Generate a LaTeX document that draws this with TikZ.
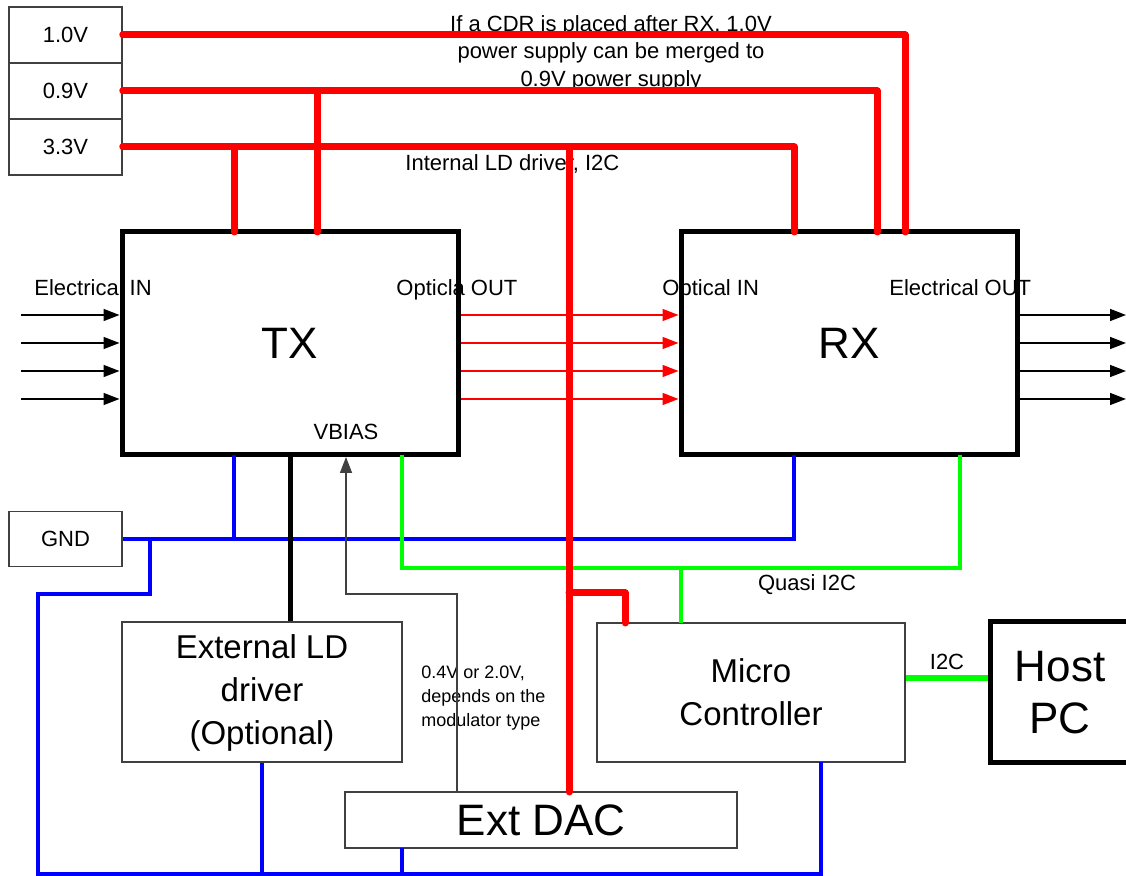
\documentclass[tikz,border=0pt]{standalone}
\usepackage{fontspec}
\setmainfont{Liberation Sans}
\usetikzlibrary{arrows.meta}

\begin{document}
\begin{tikzpicture}[x=0.5pt, y=-0.5pt, >={Triangle[length=8pt, width=6pt]},
	lbl/.style={inner sep=0pt, font=\fontsize{11}{13.75}\selectfont},
	supply/.style={draw=black!75, line width=0.75pt, minimum width=56.5pt, minimum height=28pt, inner sep=0pt, font=\fontsize{11}{13}\selectfont},
	chip/.style={draw, line width=2.5pt, minimum width=168pt, minimum height=111.5pt, inner sep=0pt, align=center, font=\fontsize{22}{24}\selectfont},
	block/.style={draw=black!75, line width=0.75pt, inner sep=0pt, align=center, font=\fontsize{16.5}{21.5}\selectfont},
	pwr/.style={red, line width=3.5pt, line cap=round, line join=round},
	gndw/.style={blue, line width=2pt},
	bus/.style={green, line width=2pt},
	elec/.style={->, line width=0.75pt},
	optic/.style={->, red, line width=0.75pt}]
	\useasboundingbox (0,0) rectangle (1126,876);
	\node[lbl, align=center] (cdrnote) at (611,53) {If a CDR is placed after RX, 1.0V\\power supply can be merged to\\0.9V power supply};
	\node[lbl, anchor=base west] (ldnote) at (405,171) {Internal LD driver, I2C};
	\node[lbl, anchor=base west] (elin) at (34,296) {Electrical IN};
	\node[lbl, anchor=base west] (opout) at (396,296) {Opticla OUT};
	\node[lbl, anchor=base west] (opin) at (662,296) {Optical IN};
	\node[lbl, anchor=base west] (elout) at (889,296) {Electrical OUT};
	\node[lbl, anchor=base] (vbias) at (346,440) {VBIAS};
	\node[lbl, anchor=base] (quasi) at (807,591) {Quasi I2C};
	\node[lbl, anchor=base] (i2c) at (947,670) {I2C};
	\node[lbl, anchor=west, align=left, font=\fontsize{9}{12}\selectfont] (vnote) at (421,698) {0.4V or 2.0V,\\depends on the\\modulator type};
	
	\node[supply] (v10) at (65.5,35) {1.0V};
	\node[supply] (v09) at (65.5,91) {0.9V};
	\node[supply] (v33) at (65.5,147) {3.3V};
	\node[supply, minimum height=27.5pt] (gnd) at (65.5,539) {GND};
	\node[chip] (tx) at (290,343.5) {TX};
	\node[chip] (rx) at (849,343.5) {RX};
	\node[block, minimum width=140pt, minimum height=70pt, text depth=2pt] (extld) at (262,692) {External LD\\driver\\(Optional)};
	\node[block, minimum width=154pt, minimum height=69.5pt] (mcu) at (751,692.5) {Micro\\Controller};
	\node[block, minimum width=196pt, minimum height=28pt, font=\fontsize{22}{24}\selectfont] (dac) at (541,820) {Ext DAC};
	\node[chip, minimum width=70pt, minimum height=70.5pt, font=\fontsize{22}{26}\selectfont] (host) at (1060,692.5) {Host\\PC};
	
	\coordinate (tx33) at (234,232);
	\coordinate (tx09) at (317,232);
	\coordinate (rx33) at (794,232);
	\coordinate (rx09) at (877,232);
	\coordinate (rx10) at (905,232);
	\coordinate (ldpwr) at (569,792);
	\coordinate (mcpwr) at (625,623);
	\coordinate (txgnd) at (234,455);
	\coordinate (rxgnd) at (794,455);
	\coordinate (mcgnd) at (821,762);
	\coordinate (dacgnd) at (402,848);
	\coordinate (gndloop) at (38,874);
	\coordinate (txi2c) at (402,455);
	\coordinate (rxi2c) at (960,455);
	\coordinate (mci2c) at (681,623);
	\coordinate (vbtip) at (346,457);
	
	\draw[gndw] (gnd.east) -| (rxgnd);
	\draw[gndw] (txgnd) -- (txgnd |- gnd.east);
	\draw[gndw] (gnd.east -| 150,0) -- (150,594) -| (gndloop) -| (mcgnd);
	\draw[gndw] (extld.south) -- (extld.south |- gndloop);
	\draw[gndw] (dacgnd) -- (dacgnd |- gndloop);
	
	\draw[bus] (txi2c) -- (402,568) -| (rxi2c);
	\draw[bus] (mci2c |- 0,568) -- (mci2c);
	\draw[bus, line width=3.25pt] (mcu.east |- 0,678) -- (host.west |- 0,678);
	
	\draw[line width=2.5pt] (tx.south) -- (tx.south |- extld.north);
	\draw[->, black!75, line width=0.75pt] (dac.north -| 457,0) |- (346,594) -- (vbtip);
	
	\foreach \y in {315,343,371,399} {
		\draw[elec] (21,\y) -- (tx.west |- 0,\y);
		\draw[optic] (tx.east |- 0,\y) -- (rx.west |- 0,\y);
		\draw[elec] (rx.east |- 0,\y) -- (1126,\y);
	}
	
	\draw[pwr] (v10.east) -| (rx10);
	\draw[pwr] (v09.east) -| (rx09);
	\draw[pwr] (v33.east) -| (rx33);
	\draw[pwr] (tx33 |- v33.east) -- (tx33);
	\draw[pwr] (tx09 |- v09.east) -- (tx09);
	\draw[pwr] (ldpwr |- v33.east) -- (ldpwr);
	\draw[pwr] (ldpwr |- 0,593) -| (mcpwr);
	
\end{tikzpicture}
\end{document}
